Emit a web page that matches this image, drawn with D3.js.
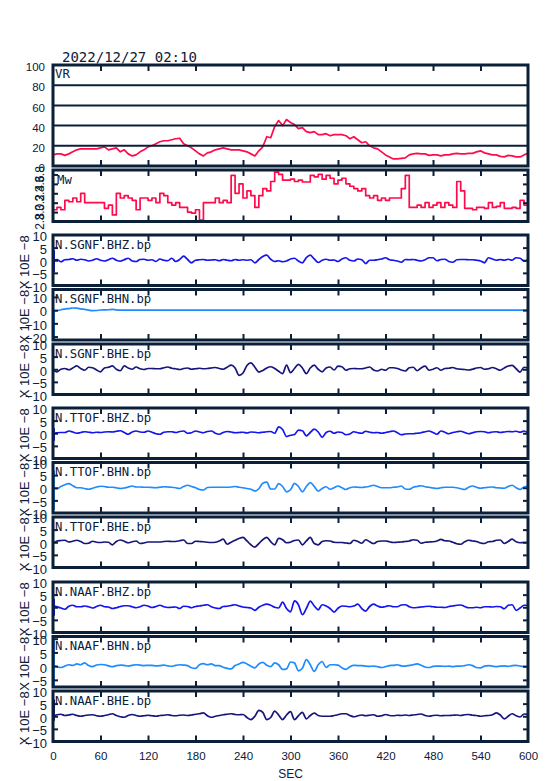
<!DOCTYPE html>
<html>
<head>
<meta charset="utf-8">
<script src="https://cdn.jsdelivr.net/npm/d3@7"></script>
<style>
  body { margin: 0; background: #fff; }
  svg { display: block; }
  .frame { fill: none; stroke: #0b2038; stroke-width: 3; }
  .grid { stroke: #0b2038; stroke-width: 2; }
  .axis .domain { display: none; }
  .axis line { stroke: #0b2038; stroke-width: 2; }
  .axis text { fill: #0b2038; font-family: "Liberation Sans", Arial, sans-serif; font-size: 11.5px; }
  .axis.big text { font-size: 13px; }
  .mono { font-family: "DejaVu Sans Mono", monospace; fill: #0b2038; }
  .sans { font-family: "Liberation Sans", Arial, sans-serif; fill: #0b2038; }
  .trace { fill: none; stroke-width: 1.7; stroke-linejoin: round; }
</style>
</head>
<body>
<svg id="chart" width="554" height="781"></svg>
<script>
// ---- data ----
const title = '2022/12/27 02:10';
const secTicks = [0, 60, 120, 180, 240, 300, 360, 420, 480, 540, 600];
const vrTicks = [0, 20, 40, 60, 80, 100];
const mwTicks = [2.8, 3.0, 3.2, 3.4, 3.6, 3.8];
const sampleStep = 5; // seconds between samples

// variance reduction, one value every 5 s
const vrValues = [
  11, 12, 12, 10.5, 12, 14, 16, 17, 17, 17, 17, 17,
  18, 19, 16, 17, 18, 14, 16, 12, 10, 11, 14, 16,
  19, 20, 22, 24, 25, 25, 26, 27, 27.5, 22, 20, 18,
  15, 12, 10, 13, 14, 16, 17, 18, 17, 16, 16, 16,
  15, 14, 12, 10, 15, 19, 29, 28, 39, 45, 40, 46,
  43, 41, 37, 38, 34, 33, 34, 31, 31, 32, 30, 31,
  31, 31, 30, 27, 29, 26, 23, 24, 20, 18, 17, 14,
  11, 9, 7, 7, 7.5, 8, 11, 12, 12.5, 12, 12, 10.5,
  11, 11, 10, 11, 11, 12, 12.5, 12, 12, 12.5, 12.5, 14,
  15, 13, 12, 11, 11, 9.5, 9, 10.5, 10, 9, 9, 11,
  12.5
];

// moment magnitude, one value every 5 s
const mwValues = [
  3.05, 3.1, 3.05, 3.25, 3.22, 3.3, 3.22, 3.4, 3.2, 3.2, 3.2, 3.2,
  3.2, 3.08, 3.15, 2.94, 3.4, 3.3, 3.35, 3.3, 3.25, 3.05, 3.3, 3.3,
  3.25, 3.3, 3.2, 3.4, 3.35, 3.2, 3.15, 3.2, 3.1, 3.1, 3.0, 2.98,
  3.05, 2.83, 3.2, 3.2, 3.2, 3.3, 3.2, 3.25, 3.2, 3.78, 3.4, 3.6,
  3.3, 3.45, 3.35, 3.1, 3.35, 3.5, 3.45, 3.65, 3.85, 3.8, 3.68, 3.68,
  3.7, 3.65, 3.68, 3.64, 3.64, 3.78, 3.75, 3.8, 3.7, 3.78, 3.72, 3.6,
  3.68, 3.72, 3.6, 3.55, 3.5, 3.45, 3.5, 3.35, 3.3, 3.35, 3.25, 3.3,
  3.25, 3.3, 3.3, 3.3, 3.5, 3.78, 3.1, 3.1, 3.15, 3.1, 3.2, 3.1,
  3.15, 3.2, 3.1, 3.2, 3.15, 3.1, 3.65, 3.45, 3.08, 3.08, 3.05, 3.1,
  3.1, 3.08, 3.2, 3.1, 3.12, 3.2, 3.08, 3.08, 3.1, 3.08, 3.25, 3.15,
  3.2
];

// band-passed waveforms (x 10E-8), one value every 5 s
const sgnfBHZ = [
  0, 0.3, -0.6, 0.2, 0.3, 0.6, 0, 0.4, 0.2, -0.3, 0, 0.6,
  0, -0.3, 0.2, 0.8, 0, -0.4, 0.2, 0.8, -0.3, -0.5, 0.3, 0.4,
  0, 0.2, -0.5, 0.5, 0, -0.2, 0.8, -0.5, 0.3, 1.6, 0.3, -1.0,
  0, 0.2, 0.3, 0, 0.1, 0.2, -0.2, 0.3, 0, -0.2, 0.3, 0,
  0.2, 0, 0.2, -1.0, 0.3, 1.5, 2.0, 0.4, -0.5, -0.2, -0.6, -0.3,
  0.5, 0.8, -0.3, -1.0, 1.0, 2.0, 0.5, -0.9, 0, 0.4, 0, 0.1,
  -0.5, 0.5, 1.0, 0, -0.3, 0.5, 0.2, -1.3, 0, 0, 0.2, 0.5,
  1.0, 0.2, 0, -0.3, -0.8, 0.3, 0.2, 0.3, 0, -0.3, 0.2, 1.0,
  1.0, -0.2, 0.3, 0.4, -0.5, -0.8, 0.2, 0.3, 0.3, 0.2, 0.2, 0,
  -0.3, -1.0, 1.0, 0.5, 0, 0.3, 0, 0.4, 0, 1.0, 0.8, -0.3,
  0.2
];
const sgnfBHN = [
  -1, -0.5, 0.3, 0.8, 1.2, 1.6, 1.5, 1.0, 0.5, 0, -0.4, -0.3,
  0.1, 0.2, 0.3, 0.6, 0.2, 0, 0, 0, 0, 0, 0, 0,
  0, 0, 0, 0, 0, 0, 0, 0, 0, 0, 0, 0,
  0, 0, 0, 0, 0, 0, 0, 0, 0, 0, 0, 0,
  0, 0, 0, 0, 0, 0, 0, 0, 0, 0, 0, 0,
  0, 0, 0, 0, 0, 0, 0, 0, 0, 0, 0, 0,
  0, 0, 0, 0, 0, 0, 0, 0, 0, 0, 0, 0,
  0, 0, 0, 0, 0, 0, 0, 0, 0, 0, 0, 0,
  0, 0, 0, 0, 0, 0, 0, 0, 0, 0, 0, 0,
  0, 0, 0, 0, 0, 0, 0, 0, 0, 0, 0, 0,
  0
];
const sgnfBHE = [
  -0.4, -1, 0, 0.3, -0.2, 0.5, 1.3, 0.3, -0.4, 0.8, 0.6, -0.3,
  -1, 0.5, 0.8, 1.3, 0, -0.6, 1.3, 0.5, 0, 0.9, 0.2, -0.1,
  0.3, 0.3, 0.2, 0.2, 0.6, 0.9, 0.4, 0.2, -0.1, 0.3, 0.5, 0,
  0.2, 0.4, 0.2, 0.3, 0.5, 0.7, 0.3, 0, 0.8, 1.6, 0.5, -2.4,
  -1.5, 1.5, 2.5, 0.8, -1.1, -0.5, 0.5, 1.0, 0.3, -0.8, -1.7, 1.6,
  -1.3, 0.3, 1.9, 0.5, -1.7, 0.5, 1.6, 0, -1, 0.5, 0.9, -0.3,
  1.2, 1.0, -0.4, 0.2, 0.3, 0.2, 0.2, 0.5, 0.9, -0.3, -0.7, 0,
  -0.4, 0.6, 0.6, 0.3, -0.3, -0.7, 0.6, 0.8, -0.6, 0.5, 1.2, -0.4,
  0, 0.6, -0.4, 0.3, 0.4, 0.7, 0.2, 0, -0.1, -0.3, 0, 0.5,
  0.7, 0, 0.2, 0.7, 0.2, -0.4, 0.5, 1.3, 1.5, 0.2, -1.1, 0.8,
  0.5
];
const ttofBHZ = [
  0, 0.2, 0.3, 0.3, 0.9, 0.5, 0, 0.3, 0.6, 0.4, 0.2, 0.4,
  0.3, 0.5, 0.6, 0.5, 0.8, 1.0, 0.3, -0.4, 0.5, 0.9, 0.5, 0.4,
  0.9, 0.4, -0.2, -0.4, 0.4, 0.6, 0.6, 0.3, 0.7, 0.9, 0, 0.2,
  0.9, 0.5, 0.2, 0.7, 0.9, 0, -0.4, 0.3, 0.7, 0.5, 0.2, 0.3,
  0.4, 0.1, 0.5, 0.4, 0.2, 0.4, 0.6, 0.7, 0, 2.5, 1.5, -1.3,
  -0.8, -0.5, 1.2, 1.0, -1, 0.3, 1.6, 0.5, -1.6, 0.3, 0.8, 0,
  0.5, 0.3, -0.6, -0.3, 0.6, 0.2, 0, 0.8, 0.4, 0.2, 0.3, 0,
  0.3, 0.6, 0.9, 0.2, -0.6, -0.3, -0.2, -0.2, 0, 0.2, 0.6, 0.9,
  0.3, -0.4, 0.9, 0.4, -0.2, 0.3, 0.6, 0.8, 0.3, -0.2, 0.2, 0.6,
  0.7, 0.6, 0.2, 0.5, 0.6, 0.3, 0.5, 0.7, 0.6, 0.8, 0.4, 0.9,
  0.2
];
const ttofBHN = [
  -0.3, -0.4, 0.5, 1.2, 1.6, 0.8, 0, 0, -0.3, -0.6, -0.2, 0.3,
  0.6, 0.5, 0.2, 0.2, 0, -0.3, -0.1, 0.3, 0.7, 0.3, 0.3, 0.2,
  0.2, 0.1, 0, 0.2, 0.4, 0.3, 0.2, 0, -0.3, 0.5, 1.0, 0.5,
  0, -0.7, -0.9, 0.1, 0.2, 0.2, 0.2, 0.2, 0.2, 0.3, 0.5, 0.2,
  0, -0.3, -0.6, -1.3, -0.4, 1.8, 2.2, -0.5, -0.5, 1.6, 0.5, -1.6,
  -0.8, 1.7, 0.5, -1.6, 0.5, 2.0, 0.5, -1.3, -0.3, 0.4, -0.6, 0,
  0.7, 0, -0.7, 0, 0.3, 0.2, 0.1, 0.3, 0.6, 1.0, 0.5, 0,
  0, 0, 0.2, 0.3, 0.7, -0.5, -0.6, 0.2, 0.5, 0.8, 0.4, 0.2,
  -0.1, -0.3, 0, 0.2, 0.2, 0.2, 0, -0.4, -0.7, 0.2, 0.7, 0.2,
  -0.2, 0, 0.2, 0.3, 0, -0.1, -0.2, 0.5, 1.0, 0, -0.7, 0.3,
  0.6
];
const ttofBHE = [
  -0.5, 0.5, 0.7, 0.8, 0.1, 0.4, 0.8, 0.3, -0.5, -0.4, 0.4, 0,
  -0.1, 0.1, 0, -1.0, 0.3, 0.9, 0.4, -0.2, 0.2, 0.5, -0.5, -0.3,
  0.1, 0.1, 0.1, 0.1, 0.3, 0.4, 0.3, 0.3, 0.6, 0.9, -0.5, -0.5,
  0.4, 0.3, 0.2, 0, -0.1, 0, 0.5, 1.2, -0.8, 0, 0.8, 1.5,
  1.9, 0.5, -1.0, -1.9, -0.5, 1.0, 1.9, 0.2, -1.0, 1.5, 1.0, -0.2,
  0, 0.7, 0.9, -1.0, 0.5, 1.9, -0.5, -1.0, 0.3, 0.6, 0.5, 0,
  -0.1, -0.1, -0.3, -0.5, 0.8, 0.3, -0.4, 1.0, 0.2, -0.5, 0.3, 0.5,
  0.5, 0.2, -0.1, 0, 0.1, 0.3, 0.5, 1.0, 0.8, -0.4, 0, 0.1,
  0.2, 0.5, 1.1, 0.6, 0.5, 0, -0.6, -0.8, 0.2, 0.8, 0.5, 0.3,
  -0.3, -0.5, 0.2, 0.3, 0.8, 0.9, -0.5, 0.3, 1.2, 0.2, -0.2, -0.1,
  -0.1
];
const naafBHZ = [
  0.8, 0.2, -0.3, -0.8, 0.4, 0.8, 0.2, 0.2, 0.5, 0.2, -0.3, 0.3,
  0.8, 0.2, 0.1, -0.5, -0.2, 0.3, 0.6, 0.6, 0.2, -0.2, 0.2, 0.8,
  0.5, -0.1, 0.3, 0.8, 0.2, -0.1, 0, 0.1, -0.5, 0.4, 0.3, -0.2,
  0.3, 0.5, 0.8, 1.0, 0.2, -0.3, -0.5, 0.3, 0.4, 0.7, 1.0, 0.5,
  0.1, -0.1, -0.3, -1.2, 0, 0.8, 1.2, 0.8, 0, -0.3, 2.0, -0.5,
  -1.8, 2.5, 1.0, -2.9, -0.5, 2.4, 0.5, -1.0, 1.0, 0.5, -0.5, -1.9,
  -0.4, 0.5, 0.4, 0.2, 0.5, 1.2, -0.5, -1.5, 0.3, 1.2, 0.5, 0,
  0.3, 0.6, 0.2, 0.2, 0.9, 1.0, 0.2, -0.2, -0.1, 0.1, 0.3, 0.4,
  0.2, 0, 0, -0.1, 0.3, 0.5, 0.8, 0.9, 0.3, -0.2, -0.2, 0,
  -0.2, 0.2, 0.2, 0.1, 0.3, 0.2, -0.6, 0.8, 1.0, -1.2, -0.3, 0.8,
  0.8
];
const naafBHN = [
  0.5, -0.2, -0.5, 0, 0.5, 0.3, 0.8, 0.5, 1.2, 0.2, -0.2, 0.4,
  0.6, 0.5, 0.1, -0.2, 0.2, 0.4, 0.3, 0, 0.3, 0.5, 0.4, 0.2,
  0.3, 0.3, 0.1, 0.2, 0.4, 0.1, -0.1, 0.3, 0.5, 0.4, 0.2, -0.6,
  -0.8, 0.5, 0.9, 0.5, 0.8, 0.2, 0.2, -0.4, -0.8, -1.0, 0.2, 0.8,
  1.4, 0.8, 0, -0.6, 0.8, 1.4, 0.3, -0.2, 1.2, 0.5, -1.2, -1.0,
  1.5, 1.2, -1.7, -0.8, 2.4, 0.5, -1.9, 0.5, 1.7, -0.5, 0.5, 0.5,
  0.4, -0.6, -1.2, -0.2, 0.3, 0.2, 0.2, 0, -0.1, 0, -0.2, -0.5,
  -0.2, 0.2, 0.3, 0.5, 0.1, 0, 0.3, 0.5, 0.8, 0.3, -0.3, -0.5,
  -0.1, 0, 0, -0.1, 0, -0.2, 0, 0, 0.2, 0.5, 0.2, -0.5,
  -0.6, 0, 0.2, 0, -0.2, 0, 0.1, -0.1, 0.2, 0.3, 0, -0.2,
  -0.3
];
const naafBHE = [
  0, 0.6, 0.8, 0.3, 0.5, 0.8, 0.3, 0, 0.3, 0.5, 0.6, 0.2,
  0, 0.3, 0.6, 1.0, 0.3, -0.2, -0.4, 0.3, 0.7, 0.3, 0, 0.2,
  0.4, 0.2, 0, 0.3, 0.4, 0.6, 0.3, 0.2, 0.4, 0.5, 0.3, 0.5,
  0.8, 1.0, 1.3, 0.2, -0.4, 0, 0.3, 0.6, 0.8, 1.0, 0.7, 0.6,
  0.7, -0.5, -1.3, 0, 2.3, 1.5, -1.3, -0.5, 2.0, 0.5, -1.3, 0.5,
  1.8, -1.3, 0.2, 1.5, -1.0, 0.3, 1.2, 0.3, 0, 0, 0, 0.3,
  0.6, 1.0, 1.0, 0.3, -0.2, 0.2, 0.5, 0.2, 0.4, 0.6, 0, 0.2,
  0.7, 0.3, 0.2, 0.4, 0.3, 0.5, 0.3, 0.5, 0.7, 0.9, 0.3, 0,
  0.3, 0.4, 0.2, 0.3, 0.3, 0.4, 0.5, 0.3, 0.6, 0.7, 0.4, 0.3,
  0, 0.2, 0.3, 0.6, 1.3, 0.5, -1.0, 0, 1.0, 0.2, -0.3, 0.9,
  0.7
];

const traceNames = [
  'N.SGNF.BHZ.bp', 'N.SGNF.BHN.bp', 'N.SGNF.BHE.bp',
  'N.TTOF.BHZ.bp', 'N.TTOF.BHN.bp', 'N.TTOF.BHE.bp',
  'N.NAAF.BHZ.bp', 'N.NAAF.BHN.bp', 'N.NAAF.BHE.bp',
];
const traceValues = [sgnfBHZ, sgnfBHN, sgnfBHE, ttofBHZ, ttofBHN, ttofBHE, naafBHZ, naafBHN, naafBHE];
// jump of the first sample at t = 0 (low, high)
const traceStart = [[-4.8, 4], [-23, 0], [0, 0], [-3, 2], [-8.8, 6.8], [0, 0], [-3.4, 3.4], [-10, 10], [-1.8, 6.6]];
const traceTicks = [
  [-10, -5, 0, 5, 10], [-20, -10, 0, 10], [-10, -5, 0, 5, 10],
  [-10, -5, 0, 5, 10], [-10, -5, 0, 5, 10], [-10, -5, 0, 5, 10],
  [-10, -5, 0, 5, 10], [-5, 0, 5, 10], [-10, -5, 0, 5, 10],
];
const ampUnit = 'X 10E \u22128';

// ---- layout ----
const ink = '#0b2038';
const componentColors = ['#1414ee', '#1e8cff', '#16167a'];
const lineRed = '#ff0a4a';
const left = 53;
const right = 528;
const vrBox = {top: 65, bottom: 166};
const mwBox = {top: 170, bottom: 221.5};
const panelTops = [235, 289.5, 344, 408, 462.5, 517, 582, 636.5, 691];
const panelHeight = 50.5;
const traceDomains = [
  [-10, 10], [-22.6, 15.6], [-10, 10],
  [-10, 10], [-10, 10], [-10, 10],
  [-10, 10], [-7.6, 10.8], [-10, 10],
];

const svg = d3.select('#chart');
const x = d3.scaleLinear().domain([0, 600]).range([left, right]);
const innerSec = secTicks.slice(1, -1);
const fmt = d3.format('d');

let clipId = 0;
function panel(top, bottom) {
  const id = `clip${clipId++}`;
  svg.append('clipPath').attr('id', id)
    .append('rect')
    .attr('x', left).attr('y', top)
    .attr('width', right - left).attr('height', bottom - top);
  const g = svg.append('g');
  const plot = g.append('g').attr('clip-path', `url(#${id})`);
  return {g, plot};
}

function frame(g, top, bottom) {
  g.append('g').attr('class', 'axis').attr('transform', `translate(0,${top})`)
    .call(d3.axisTop(x).tickValues(innerSec).tickSize(-6).tickFormat(''));
  g.append('g').attr('class', 'axis').attr('transform', `translate(0,${bottom})`)
    .call(d3.axisBottom(x).tickValues(innerSec).tickSize(-6).tickFormat(''));
  g.append('rect').attr('class', 'frame')
    .attr('x', left).attr('y', top)
    .attr('width', right - left).attr('height', bottom - top);
}

function sideTicks(g, y, values) {
  g.append('g').attr('class', 'axis').attr('transform', `translate(${left},0)`)
    .call(d3.axisLeft(y).tickValues(values).tickSize(-5).tickFormat(''));
  g.append('g').attr('class', 'axis').attr('transform', `translate(${right},0)`)
    .call(d3.axisRight(y).tickValues(values).tickSize(-5).tickFormat(''));
}

const tx = (d, i) => x(i * sampleStep);

// Title
svg.append('text').attr('class', 'mono')
  .attr('x', 62).attr('y', 62)
  .style('font-size', '14px')
  .text(title);

// VR panel
{
  const y = d3.scaleLinear().domain([0, 100]).range([vrBox.bottom, vrBox.top]);
  const {g, plot} = panel(vrBox.top, vrBox.bottom);
  g.selectAll('.grid').data(vrTicks.slice(1, -1)).enter().append('line')
    .attr('class', 'grid')
    .attr('x1', left).attr('x2', right)
    .attr('y1', (d) => y(d)).attr('y2', (d) => y(d));
  plot.append('path').datum(vrValues)
    .attr('class', 'trace')
    .attr('stroke', lineRed).attr('stroke-width', 1.2)
    .attr('d', d3.line().x(tx).y((d) => y(d)));
  frame(g, vrBox.top, vrBox.bottom);
  const ax = g.append('g').attr('class', 'axis').attr('transform', `translate(${left},0)`)
    .call(d3.axisLeft(y).tickValues(vrTicks).tickSize(0).tickPadding(8).tickFormat(fmt));
  ax.selectAll('text').attr('dy', '0.5em');
  g.append('text').attr('class', 'mono')
    .attr('x', 55).attr('y', 77.5)
    .style('font-size', '12.3px')
    .text('VR');
}

// Mw panel
{
  const y = d3.scaleLinear().domain([2.8, 3.895]).range([mwBox.bottom, mwBox.top]);
  const {g, plot} = panel(mwBox.top, mwBox.bottom);
  plot.append('path').datum(mwValues)
    .attr('class', 'trace')
    .attr('stroke', lineRed).attr('stroke-width', 1.5)
    .attr('d', d3.line().x(tx).y((d) => y(d)).curve(d3.curveStepAfter));
  frame(g, mwBox.top, mwBox.bottom);
  sideTicks(g, y, mwTicks.slice(1));
  g.selectAll('.mwlabel').data(mwTicks).enter().append('text')
    .attr('class', 'sans mwlabel')
    .attr('text-anchor', 'middle')
    .attr('transform', (d) => `translate(44,${y(d)}) rotate(-90)`)
    .style('font-size', '12px')
    .text((d) => d3.format('.1f')(d));
  g.append('text').attr('class', 'mono')
    .attr('x', 57).attr('y', 184)
    .style('font-size', '12.3px')
    .text('Mw');
}

// Waveform panels
traceValues.forEach((values, k) => {
  const top = panelTops[k];
  const bottom = top + panelHeight;
  const y = d3.scaleLinear().domain(traceDomains[k]).range([bottom, top]);
  const color = componentColors[k % 3];
  const {g, plot} = panel(top, bottom);

  plot.append('line')
    .attr('x1', x(0) + 1).attr('x2', x(0) + 1)
    .attr('y1', y(traceStart[k][0])).attr('y2', y(traceStart[k][1]))
    .attr('stroke', color).attr('stroke-width', 2);
  plot.append('path').datum(values)
    .attr('class', 'trace')
    .attr('stroke', color)
    .attr('d', d3.line().x(tx).y((d) => y(d)).curve(d3.curveMonotoneX));

  frame(g, top, bottom);
  const [lo, hi] = traceDomains[k];
  sideTicks(g, y, traceTicks[k].filter((v) => v > lo + 0.5 && v < hi - 0.5));
  const ax = g.append('g').attr('class', 'axis big').attr('transform', `translate(${left},0)`)
    .call(d3.axisLeft(y).tickValues(traceTicks[k]).tickSize(0).tickPadding(6).tickFormat(fmt));
  ax.selectAll('text').attr('dy', '0.45em');

  g.append('text').attr('class', 'mono')
    .attr('x', 55).attr('y', top + 13.5)
    .style('font-size', '12.3px')
    .text(traceNames[k]);

  g.append('text').attr('class', 'sans')
    .attr('text-anchor', 'middle')
    .attr('transform', `translate(29,${(top + bottom) / 2 + 2}) rotate(-90)`)
    .style('font-size', '13px')
    .text(ampUnit);

  if (k === traceValues.length - 1) {
    g.append('g').attr('class', 'axis').attr('transform', `translate(0,${bottom})`)
      .call(d3.axisBottom(x).tickValues(secTicks).tickSize(0).tickPadding(10).tickFormat(fmt));
  }
});

svg.append('text').attr('class', 'sans')
  .attr('x', (left + right) / 2).attr('y', 778)
  .attr('text-anchor', 'middle')
  .style('font-size', '12px')
  .text('SEC');
</script>
</body>
</html>
